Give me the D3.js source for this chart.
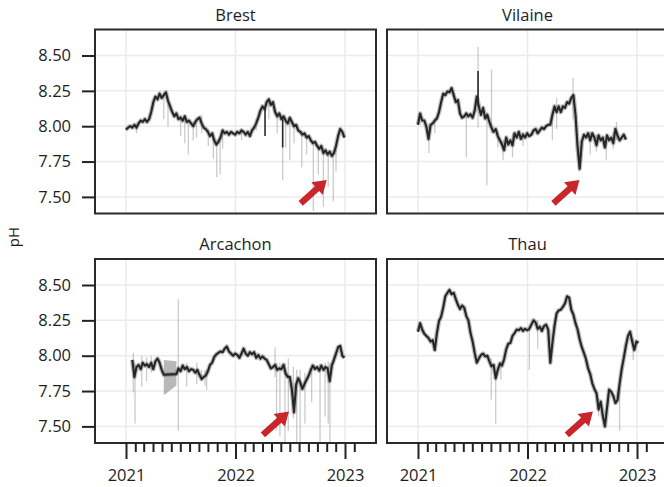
<!DOCTYPE html>
<html lang="en">
<head>
<meta charset="UTF-8">
<title>pH - Brest, Vilaine, Arcachon, Thau</title>
<script src="https://cdn.jsdelivr.net/npm/d3@7"></script>
<style>
  body { margin: 0; background: #fff; }
  text { font-family: "Open Sans", sans-serif; fill: #1e1e1e; }
</style>
</head>
<body>
<div id="container"></div>
<script>
// weekly pH, index 0 = week of 2021-01-01
let brestPH = [7.975, 7.99, 8.00, 7.99, 8.01, 7.99, 8.02, 8.04, 8.03, 8.05,
  8.03, 8.05, 8.10, 8.17, 8.21, 8.19, 8.23, 8.20, 8.22, 8.24,
  8.18, 8.14, 8.10, 8.07, 8.09, 8.05, 8.06, 8.04, 8.07, 8.03,
  8.04, 8.02, 8.00, 8.03, 8.05, 8.06, 8.02, 7.99, 7.98, 7.96,
  7.93, 7.95, 7.90, 7.87, 7.89, 7.92, 7.97, 7.95, 7.96, 7.94,
  7.96, 7.95, 7.94, 7.96, 7.95, 7.97, 7.96, 7.94, 7.96, 7.93,
  7.97, 7.99, 8.02, 8.06, 8.11, 8.14, 8.12, 8.17, 8.19, 8.15,
  8.17, 8.10, 8.07, 8.09, 8.05, 8.07, 8.04, 8.02, 8.06, 8.03,
  8.00, 8.01, 7.97, 7.96, 7.94, 7.95, 7.92, 7.93, 7.90, 7.88,
  7.89, 7.86, 7.84, 7.86, 7.81, 7.83, 7.80, 7.82, 7.79, 7.81,
  7.86, 7.93, 7.98, 7.96, 7.92];

let vilainePH = [8.01, 8.09, 8.04, 8.04, 7.995, 7.91, 8.01, 8.02, 8.04, 8.055,
  8.10, 8.17, 8.23, 8.22, 8.245, 8.24, 8.27, 8.22, 8.17, 8.185,
  8.09, 8.06, 8.07, 8.09, 8.07, 8.085, 8.06, 8.11, 8.21, 8.14,
  8.08, 8.13, 8.055, 8.08, 8.03, 7.99, 7.96, 7.98, 7.93, 7.90,
  7.87, 7.83, 7.92, 7.87, 7.90, 7.865, 7.95, 7.92, 7.96, 7.91,
  7.94, 7.92, 7.95, 7.93, 7.94, 7.97, 7.98, 7.95, 7.97, 7.99,
  7.98, 8.00, 8.01, 8.01, 8.08, 8.14, 8.10, 8.14, 8.10, 8.14,
  8.13, 8.17, 8.16, 8.20, 8.22, 8.08, 7.85, 7.70, 7.89, 7.94,
  7.92, 7.95, 7.90, 7.95, 7.92, 7.865, 7.935, 7.90, 7.92, 7.85,
  7.935, 7.90, 7.92, 7.88, 7.98, 7.935, 7.90, 7.92, 7.94, 7.905];

let arcachonPH = [null, null, null,
  7.97, 7.85, 7.92, 7.935, 7.905, 7.95, 7.93, 7.94, 7.92, 7.95, 7.905, 7.96, 7.98, 7.95, 7.90, 7.865,
  null, null, null, null, null,
  7.87, 7.91, 7.89, 7.93, 7.905, 7.92, 7.89, 7.905, 7.90, 7.88, 7.90, 7.865, 7.835, 7.85, 7.86, 7.89,
  7.935, 7.95, 7.99, 8.01, 8.02, 8.03, 8.025, 8.05, 8.065, 8.03,
  8.015, 8.00, 8.015, 8.005, 7.985, 8.015, 8.05, 8.015, 8.00, 8.025,
  8.01, 8.025, 7.985, 8.005, 7.98, 7.995, 7.98, 7.97, 7.94, 7.91,
  7.92, 7.935, 7.90, 7.91, 7.905, 7.935, 7.875, 7.85, 7.85, 7.76,
  7.60, 7.795, 7.84, 7.81, 7.765, 7.80, 7.83, 7.86, 7.90, 7.93,
  7.905, 7.92, 7.895, 7.93, 7.90, 7.92, 7.91, 7.82, 7.93, 7.97,
  8.015, 8.06, 8.07, 8.00, 7.985];

let thauPH = [8.17, 8.23, 8.185, 8.155, 8.14, 8.125, 8.10, 8.11, 8.04, 8.16,
  8.245, 8.275, 8.34, 8.42, 8.445, 8.465, 8.435, 8.445, 8.40, 8.36,
  8.33, 8.355, 8.34, 8.28, 8.25, 8.16, 8.10, 8.02, 7.95, 7.98,
  8.005, 8.015, 7.995, 8.00, 7.96, 7.925, 7.935, 7.84, 7.90, 7.945,
  7.93, 7.975, 8.045, 8.085, 8.09, 8.14, 8.16, 8.185, 8.18, 8.195,
  8.175, 8.19, 8.18, 8.19, 8.22, 8.25, 8.235, 8.19, 8.205, 8.175,
  8.21, 8.22, 8.185, 7.95, 8.09, 8.21, 8.30, 8.32, 8.325, 8.345,
  8.37, 8.42, 8.41, 8.325, 8.29, 8.23, 8.185, 8.115, 8.06, 8.02,
  7.975, 7.91, 7.87, 7.805, 7.765, 7.735, 7.62, 7.675, 7.575, 7.50,
  7.63, 7.76, 7.745, 7.715, 7.665, 7.685, 7.80, 7.905, 7.985, 8.07,
  8.14, 8.17, 8.10, 8.04, 8.10, 8.09];

// daily extremes sticking out of the weekly line: [week, low, high]
let brestSpikes = [[5, 7.95, 8.02], [18, 8.05, 8.24], [20, 8.00, 8.20], [26, 7.93, 8.08], [28, 7.88, 8.08],
  [29.7, 7.80, 8.05], [32, 7.90, 8.03], [33.6, 7.92, 8.04], [36, 7.95, 8.08], [39.2, 7.86, 7.98],
  [41.6, 7.77, 7.96], [43.2, 7.64, 7.90], [44.8, 7.66, 7.92], [46, 7.84, 7.98], [55, 7.90, 7.98],
  [62, 7.97, 8.05], [68, 8.05, 8.20], [72, 7.95, 8.10], [74.6, 7.62, 8.07], [76, 7.85, 8.06],
  [78, 7.76, 8.07], [80, 7.88, 8.02], [83.7, 7.71, 7.97], [86, 7.80, 7.94], [89.2, 7.40, 7.90],
  [91.6, 7.66, 7.87], [94, 7.43, 7.83], [96.3, 7.57, 7.82], [98.7, 7.47, 7.82], [100, 7.68, 7.88]];
let vilaineSpikes = [[5.2, 7.81, 8.00], [8, 7.95, 8.06], [23, 7.78, 8.10], [28.6, 7.99, 8.56],
  [32.8, 7.58, 8.10], [35, 7.95, 8.40], [38, 7.85, 7.97], [40.5, 7.76, 7.90], [45, 7.78, 7.95],
  [50, 7.86, 7.96], [64, 7.90, 8.10], [66, 7.98, 8.20], [73.8, 8.05, 8.34], [76.7, 7.68, 7.86],
  [82, 7.80, 7.96], [85, 7.82, 7.94], [89.7, 7.76, 7.93], [93, 7.84, 7.96], [94.5, 7.90, 8.03]];
let arcachonSpikes = [[3.5, 7.74, 8.02], [4.3, 7.52, 7.95], [7.5, 7.78, 8.00], [9.8, 7.82, 7.99],
  [12, 7.88, 8.00], [24.9, 7.47, 8.40], [28.9, 7.78, 7.95], [33.7, 7.80, 7.95], [36, 7.82, 7.90],
  [37.6, 7.79, 7.90], [38.4, 7.76, 7.90], [71, 7.85, 8.06], [71.7, 7.47, 7.95], [73.3, 7.43, 7.95],
  [75.7, 7.30, 7.95], [77.3, 7.47, 7.98], [79.7, 7.56, 7.92], [81.3, 7.30, 7.90], [82.9, 7.30, 7.90],
  [85.2, 7.52, 7.88], [88.4, 7.67, 7.94], [92.4, 7.30, 7.94], [94.8, 7.57, 7.95], [96.3, 7.52, 7.96],
  [97.1, 7.30, 7.95]];
let thauSpikes = [[34.9, 7.69, 7.98], [37, 7.52, 7.90], [39.5, 7.83, 7.96], [53, 7.90, 8.20],
  [57, 8.05, 8.25], [86, 7.57, 7.70], [96, 7.47, 7.80], [102.5, 7.97, 8.12]];

// dark daily excursions of the line itself: [week, low, high]
let brestDark = [[66.2, 7.93, 8.14], [74.6, 7.85, 8.07]];
let vilaineDark = [[28.6, 8.14, 8.39]];
let arcachonDark = [];
let thauDark = [];

// ribbon across the Arcachon data gap: [week, low, high]
let arcachonGap = [[18, 7.72, 7.97], [24, 7.79, 7.96]];

// red arrows, tip at [date, pH]
let arrowTips = [["2022-11-01", 7.62], ["2022-06-23", 7.62], ["2022-06-28", 7.605], ["2022-08-07", 7.605]];

let siteNames = ["Brest", "Vilaine", "Arcachon", "Thau"];
let yTicks = [7.5, 7.75, 8.0, 8.25, 8.5];
let yearTicks = ["2021-01-01", "2022-01-01", "2023-01-01"];
let yearLabels = ["2021", "2022", "2023"];

let panels = [
  {name: siteNames[0], ph: brestPH, spikes: brestSpikes, dark: brestDark, gap: [], tip: arrowTips[0], col: 0, row: 0},
  {name: siteNames[1], ph: vilainePH, spikes: vilaineSpikes, dark: vilaineDark, gap: [], tip: arrowTips[1], col: 1, row: 0},
  {name: siteNames[2], ph: arcachonPH, spikes: arcachonSpikes, dark: arcachonDark, gap: arcachonGap, tip: arrowTips[2], col: 0, row: 1},
  {name: siteNames[3], ph: thauPH, spikes: thauSpikes, dark: thauDark, gap: [], tip: arrowTips[3], col: 1, row: 1}
];

let svg = d3.select('#container')
  .append('svg')
  .attr('width', 664)
  .attr('height', 487);

// soft edge, the original is a slightly blurry raster
svg.append('defs').append('filter').attr('id', 'soft')
  .append('feGaussianBlur').attr('stdDeviation', 0.45);

let panelW = 281, panelH = 184;
let colX = [95, 387], rowY = [29.5, 259];
let origin = new Date(2021, 0, 1);
let weekDate = w => d3.timeHour.offset(origin, Math.round(w * 7 * 24));
let parse = d3.timeParse("%Y-%m-%d");

let x = d3.scaleTime()
  .domain([parse(yearTicks[0]), parse(yearTicks[2])])
  .range([31, 250]);
let y = d3.scaleLinear()
  .domain([7.5, 8.5])
  .range([167.4, 26]);

let line = d3.line().x(d => x(d.date)).y(d => y(d.v));
let band = d3.area().x(d => x(weekDate(d[0]))).y0(d => y(d[1])).y1(d => y(d[2]));

let minorTicks = d3.timeMonth.range(new Date(2021, 1, 1), new Date(2023, 1, 2)).filter(d => d.getMonth() !== 0);

panels.forEach((p, i) => {
  let g = svg.append('g').attr('transform', `translate(${colX[p.col]},${rowY[p.row]})`);

  // grid
  g.selectAll('.hgrid').data(yTicks).join('line')
    .attr('x1', 0).attr('x2', panelW)
    .attr('y1', d => y(d)).attr('y2', d => y(d))
    .attr('stroke', '#ebebeb').attr('stroke-width', 1.5);
  g.selectAll('.vgrid').data(yearTicks).join('line')
    .attr('x1', d => x(parse(d))).attr('x2', d => x(parse(d)))
    .attr('y1', 0).attr('y2', panelH)
    .attr('stroke', '#ebebeb').attr('stroke-width', 1.5);

  g.append('clipPath').attr('id', 'clip' + i)
    .append('rect').attr('width', panelW).attr('height', panelH);
  let plot = g.append('g').attr('clip-path', `url(#clip${i})`)
    .append('g').attr('filter', 'url(#soft)');

  if (p.gap.length) {
    plot.append('path').datum(p.gap)
      .attr('d', band)
      .attr('fill', '#9a9a9a').attr('fill-opacity', 0.7);
  }

  plot.selectAll('.spike').data(p.spikes).join('line')
    .attr('x1', d => x(weekDate(d[0]))).attr('x2', d => x(weekDate(d[0])))
    .attr('y1', d => y(d[1])).attr('y2', d => y(d[2]))
    .attr('stroke', '#8c8c8c').attr('stroke-opacity', 0.45).attr('stroke-width', 1.3);

  let pts = p.ph.map((v, k) => ({date: weekDate(k), v: v})).filter(d => d.v != null);

  plot.append('path').datum(pts)
    .attr('d', line)
    .attr('fill', 'none')
    .attr('stroke', '#555').attr('stroke-opacity', 0.4)
    .attr('stroke-width', 4.5).attr('stroke-linejoin', 'round');
  plot.append('path').datum(pts)
    .attr('d', line)
    .attr('fill', 'none')
    .attr('stroke', '#262626')
    .attr('stroke-width', 2.1).attr('stroke-linejoin', 'round');

  plot.selectAll('.dark').data(p.dark).join('line')
    .attr('x1', d => x(weekDate(d[0]))).attr('x2', d => x(weekDate(d[0])))
    .attr('y1', d => y(d[1])).attr('y2', d => y(d[2]))
    .attr('stroke', '#2b2b2b').attr('stroke-width', 1.6);

  // frame
  g.append('rect')
    .attr('width', panelW).attr('height', panelH)
    .attr('fill', 'none').attr('stroke', '#2a2a2a').attr('stroke-width', 2);

  // strip title
  g.append('text')
    .attr('x', panelW / 2).attr('y', -9)
    .attr('text-anchor', 'middle')
    .style('font-size', '16.5px')
    .text(p.name);

  // red arrow
  g.append('path')
    .attr('transform', `translate(${x(parse(p.tip[0]))},${y(p.tip[1])}) rotate(-42)`)
    .attr('d', 'M0,0 L-13,-8.5 L-13,-3.2 L-35,-3.2 L-35,3.2 L-13,3.2 L-13,8.5 Z')
    .attr('fill', '#c8262b');

  if (p.col === 0) {
    let ax = g.append('g')
      .call(d3.axisLeft(y).tickValues(yTicks).tickSize(13).tickPadding(11).tickFormat(d3.format('.2f')));
    ax.select('.domain').remove();
    ax.selectAll('line').attr('stroke', '#222').attr('stroke-width', 2);
    ax.selectAll('text').style('font-size', '16.5px').attr('fill', '#1e1e1e');
  }

  if (p.row === 1) {
    let minor = g.append('g').attr('transform', `translate(0,${panelH})`)
      .call(d3.axisBottom(x).tickValues(minorTicks).tickSize(9).tickFormat(''));
    minor.select('.domain').remove();
    minor.selectAll('line').attr('stroke', '#222').attr('stroke-width', 2);

    let major = g.append('g').attr('transform', `translate(0,${panelH})`)
      .call(d3.axisBottom(x).tickValues(yearTicks.map(parse)).tickSize(16).tickPadding(10)
        .tickFormat((d, k) => yearLabels[k]));
    major.select('.domain').remove();
    major.selectAll('line').attr('stroke', '#222').attr('stroke-width', 2);
    major.selectAll('text').style('font-size', '16.5px').attr('fill', '#1e1e1e');
  }
});

svg.append('text')
  .attr('transform', 'translate(19,237) rotate(-90)')
  .attr('text-anchor', 'middle')
  .style('font-size', '15px')
  .text('pH');
</script>
</body>
</html>
